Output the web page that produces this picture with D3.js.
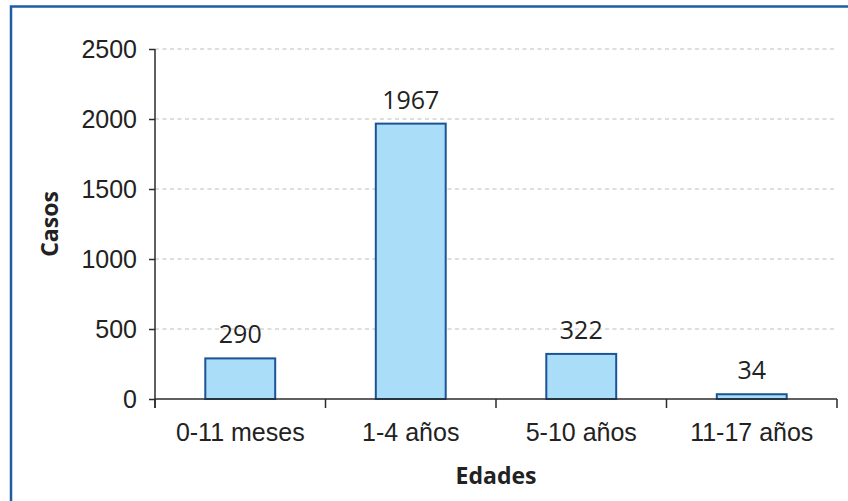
<!DOCTYPE html>
<html>
<head>
<meta charset="utf-8">
<script src="https://cdn.jsdelivr.net/npm/d3@7"></script>
<style>
    body { margin: 0; background: #fff; }
    svg { display: block; font-family: "Open Sans", "Noto Sans", sans-serif; }
    .axis path, .axis line { stroke: #2b2b2b; stroke-width: 1.5px; }
    .axis text { fill: #222; font-size: 25px; }
    .grid line { stroke: #bdbdbd; stroke-width: 1.2px; stroke-dasharray: 4 3.5; }
</style>
</head>
<body>
<div id="chart"></div>
<script>
    // data
    let categories = ["0-11 meses", "1-4 años", "5-10 años", "11-17 años"];
    let casos = [290, 1967, 322, 34];
    let yTicks = [0, 500, 1000, 1500, 2000, 2500];

    let totalWidth = 848, totalHeight = 501;
    let margin = {top: 49, right: 11, bottom: 102, left: 155};
    let width = totalWidth - margin.left - margin.right;
    let height = totalHeight - margin.top - margin.bottom;

    let svg = d3.select("#chart").append("svg")
        .attr("width", totalWidth)
        .attr("height", totalHeight);

    // blue frame (runs off the right and bottom edges)
    svg.append("rect")
        .attr("x", 11)
        .attr("y", 6.5)
        .attr("width", 1000)
        .attr("height", 1000)
        .attr("fill", "none")
        .attr("stroke", "#1d5da5")
        .attr("stroke-width", 2.5);

    let g = svg.append("g")
        .attr("transform", `translate(${margin.left}, ${margin.top})`);

    // scales
    let x = d3.scaleBand()
        .domain(categories)
        .range([0, width])
        .padding(0);
    let y = d3.scaleLinear()
        .domain([0, 2500])
        .range([height, 0]);

    // dashed grid
    g.append("g")
        .attr("class", "grid")
        .selectAll("line")
        .data(yTicks.filter(d => d > 0))
        .enter()
        .append("line")
        .attr("x1", 0)
        .attr("x2", width)
        .attr("y1", d => y(d))
        .attr("y2", d => y(d));

    // bars
    let barWidth = x.bandwidth() * 0.41;
    g.selectAll(".bar")
        .data(casos)
        .enter()
        .append("rect")
        .attr("class", "bar")
        .attr("x", (d, i) => x(categories[i]) + x.bandwidth() / 2 - barWidth / 2)
        .attr("y", d => y(d))
        .attr("width", barWidth)
        .attr("height", d => height - y(d))
        .attr("fill", "#a9ddf8")
        .attr("stroke", "#1b5496")
        .attr("stroke-width", 2);

    // value labels
    g.selectAll(".value")
        .data(casos)
        .enter()
        .append("text")
        .attr("class", "value")
        .attr("x", (d, i) => x(categories[i]) + x.bandwidth() / 2)
        .attr("y", d => y(d) - 15)
        .attr("text-anchor", "middle")
        .style("font-size", "25px")
        .style("fill", "#222")
        .text(d => d);

    // y axis
    g.append("g")
        .attr("class", "axis y-axis")
        .call(d3.axisLeft(y).tickValues(yTicks).tickFormat(d3.format("d"))
            .tickSize(6).tickSizeOuter(0).tickPadding(12))
        .call(a => a.select(".domain").attr("d", `M0,0V${height + 9}`));

    // x axis: labels only, ticks at band edges
    let xAxis = g.append("g")
        .attr("class", "axis x-axis")
        .attr("transform", `translate(0, ${height})`)
        .call(d3.axisBottom(x).tickSize(0).tickPadding(24));
    xAxis.select(".domain").attr("d", `M0,0H${width}`);
    xAxis.selectAll(".edge")
        .data(categories.map(c => x(c)).concat([width]))
        .enter()
        .append("line")
        .attr("class", "edge")
        .attr("x1", d => d)
        .attr("x2", d => d)
        .attr("y1", 0)
        .attr("y2", 9);

    // axis titles
    svg.append("text")
        .attr("x", margin.left + width / 2)
        .attr("y", 484)
        .attr("text-anchor", "middle")
        .style("font-size", "23px")
        .style("font-weight", "bold")
        .style("fill", "#222")
        .text("Edades");

    svg.append("text")
        .attr("transform", `translate(58, ${margin.top + height / 2}) rotate(-90)`)
        .attr("text-anchor", "middle")
        .style("font-size", "23px")
        .style("font-weight", "bold")
        .style("fill", "#222")
        .text("Casos");
</script>
</body>
</html>
